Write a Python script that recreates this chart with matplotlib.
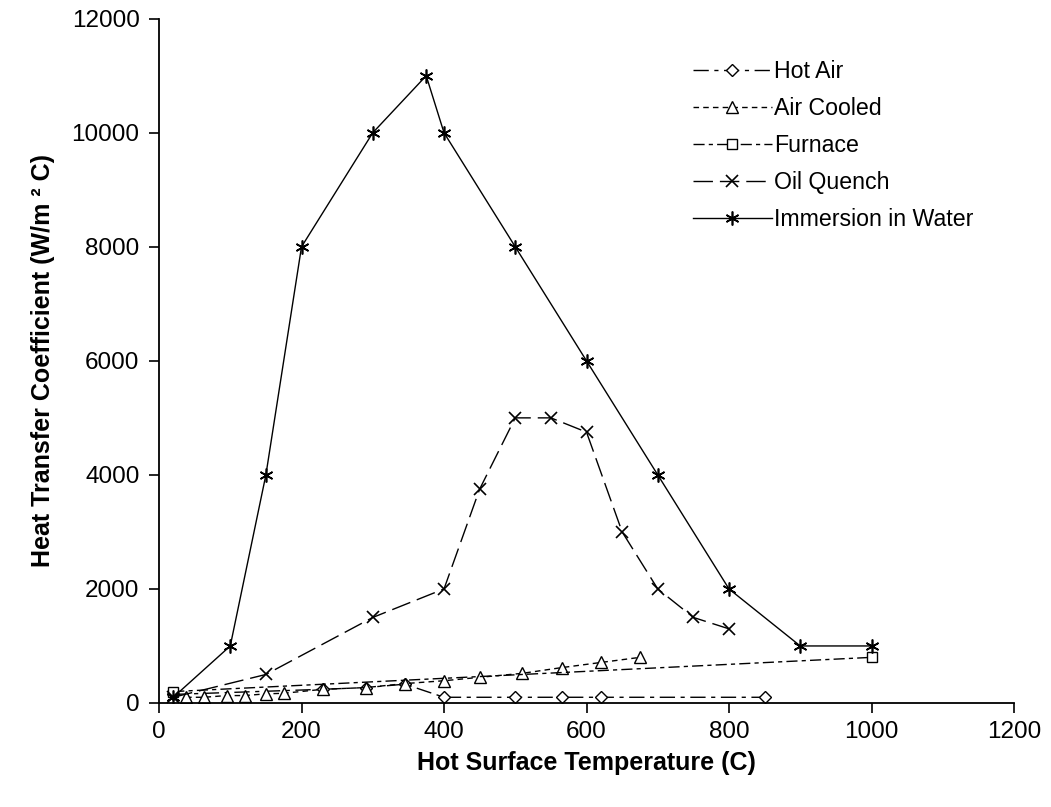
import matplotlib
matplotlib.use("Agg")
from matplotlib import pyplot as plt

plt.rcParams['font.family'] = ['Liberation Sans', 'DejaVu Sans']

# data (temperature in C, coefficient in W/m2 C)
hot_air_t = [20, 230, 290, 345, 400, 500, 565, 620, 850]
hot_air_h = [150, 240, 270, 330, 100, 100, 100, 100, 100]

air_cooled_t = [38, 63, 95, 120, 150, 175, 230, 290, 345, 400, 450, 510, 565, 620, 675]
air_cooled_h = [100, 100, 130, 130, 160, 170, 240, 270, 340, 390, 450, 520, 620, 710, 800]

furnace_t = [20, 1000]
furnace_h = [200, 800]

oil_t = [20, 150, 300, 400, 450, 500, 550, 600, 650, 700, 750, 800]
oil_h = [100, 500, 1500, 2000, 3750, 5000, 5000, 4750, 3000, 2000, 1500, 1300]

water_t = [20, 100, 150, 200, 300, 375, 400, 500, 600, 700, 800, 900, 1000]
water_h = [100, 1000, 4000, 8000, 10000, 11000, 10000, 8000, 6000, 4000, 2000, 1000, 1000]

fig = plt.figure(figsize=(10.51, 8.07), dpi=100)
ax = fig.add_axes([0.1513, 0.1289, 0.8135, 0.8479])

# Hot Air
ax.plot(hot_air_t, hot_air_h, color='black', lw=1, dashes=(11, 4, 3, 4),
        marker='D', ms=6, mfc='white', mec='black', mew=1, label='Hot Air')
# Air Cooled
ax.plot(air_cooled_t, air_cooled_h, color='black', lw=1, dashes=(4, 3),
        marker='^', ms=8, mfc='white', mec='black', mew=1, label='Air Cooled')
# Furnace
ax.plot(furnace_t, furnace_h, color='black', lw=1, dashes=(8, 3, 3, 3),
        marker='s', ms=7, mfc='white', mec='black', mew=1, label='Furnace')
# Oil Quench
ax.plot(oil_t, oil_h, color='black', lw=1, dashes=(14, 5),
        marker='x', ms=9, mec='black', mew=1.2, label='Oil Quench')
# Immersion in Water
ax.plot(water_t, water_h, color='black', lw=1,
        marker=(6, 2, 0), ms=10, mec='black', mew=1.2, label='Immersion in Water')

ax.set_xlim(0, 1200)
ax.set_ylim(0, 12000)
ax.set_xticks(range(0, 1201, 200))
ax.set_yticks(range(0, 12001, 2000))

ax.spines['top'].set_visible(False)
ax.spines['right'].set_visible(False)
ax.spines['left'].set_linewidth(1.3)
ax.spines['bottom'].set_linewidth(1.3)
ax.tick_params(direction='out', length=7, width=1.2, labelsize=17.5)
ax.tick_params(axis='y', pad=7)
ax.tick_params(axis='x', pad=6)

ax.set_xlabel('Hot Surface Temperature (C)', fontsize=18, fontweight='bold', labelpad=6)
ax.set_ylabel('Heat Transfer Coefficient (W/m ² C)', fontsize=18, fontweight='bold', labelpad=12)

ax.legend(loc='upper left', bbox_to_anchor=(0.6, 0.97), frameon=False,
          fontsize=16.7, handlelength=3.4, handletextpad=0.1, labelspacing=0.6)

plt.savefig('out.png', dpi=100)
plt.close(fig)
